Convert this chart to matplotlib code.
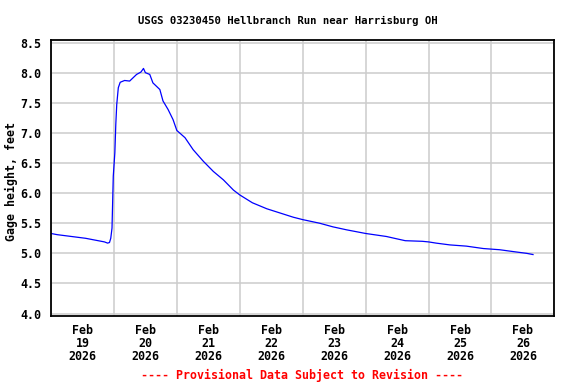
import pandas as pd
import matplotlib
matplotlib.use("Agg")
import matplotlib.pyplot as plt
import matplotlib.dates as mdates

# --- Adatok ---
START = pd.Timestamp("2026-02-19")
day_offset = [
    0.0, 0.1, 0.25, 0.4, 0.55, 0.7, 0.85, 0.9, 0.93, 0.95, 0.97, 0.99,
    1.015, 1.03, 1.045, 1.07, 1.10, 1.17, 1.25, 1.36, 1.43, 1.47, 1.50,
    1.57, 1.62, 1.73, 1.78, 1.86, 1.94, 2.0, 2.13, 2.26, 2.42, 2.58,
    2.74, 2.90, 3.0, 3.2, 3.43, 3.64, 3.85, 4.0, 4.27, 4.48, 4.7, 5.0,
    5.33, 5.5, 5.63, 5.9, 6.0, 6.12, 6.34, 6.6, 6.87, 7.13, 7.34, 7.56,
    7.66,
]
gage_height = [
    5.33, 5.31, 5.29, 5.27, 5.25, 5.22, 5.19, 5.17, 5.18, 5.25, 5.42, 6.28,
    6.67, 7.14, 7.47, 7.75, 7.84, 7.87, 7.86, 7.97, 8.01, 8.07, 8.00,
    7.97, 7.83, 7.72, 7.53, 7.39, 7.22, 7.04, 6.92, 6.72, 6.53, 6.36,
    6.22, 6.05, 5.97, 5.84, 5.74, 5.67, 5.60, 5.56, 5.50, 5.44, 5.39, 5.33,
    5.28, 5.24, 5.21, 5.20, 5.19, 5.17, 5.14, 5.12, 5.08, 5.06, 5.03, 5.00,
    4.98,
]
y_ticks = [4.0, 4.5, 5.0, 5.5, 6.0, 6.5, 7.0, 7.5, 8.0, 8.5]

TITLE = "USGS 03230450 Hellbranch Run near Harrisburg OH"
YLABEL = "Gage height, feet"
NOTE = "---- Provisional Data Subject to Revision ----"

times = START + pd.to_timedelta(day_offset, unit="D")

# --- Grafikon ---
plt.rcParams["font.family"] = ["DejaVu Sans Mono"]
plt.rcParams["font.weight"] = "bold"
FS = 8.4

fig = plt.figure(figsize=(5.76, 3.84), dpi=100)
ax = fig.add_axes([0.0885, 0.1771, 0.874, 0.72])

ax.plot(times, gage_height, color="#0000ff", linewidth=0.9)

ax.set_xlim(START, START + pd.Timedelta(days=8))
ax.set_ylim(3.96, 8.55)

# rács éjfélkor, feliratok délben
ax.xaxis.set_major_locator(mdates.DayLocator())
ax.xaxis.set_major_formatter(plt.NullFormatter())
ax.xaxis.set_minor_locator(mdates.HourLocator(byhour=[12]))
ax.xaxis.set_minor_formatter(mdates.DateFormatter("%b\n%d\n%Y"))
ax.tick_params(axis="x", which="both", length=0)
ax.tick_params(axis="x", which="minor", pad=6, labelsize=FS)
for lbl in ax.xaxis.get_minorticklabels():
    lbl.set_linespacing(1.0)

ax.set_yticks(y_ticks)
ax.set_yticklabels([f"{v:.1f}" for v in y_ticks])
ax.tick_params(axis="y", length=0, pad=7, labelsize=FS)

ax.grid(True, which="major", color="#cccccc", linewidth=1.1)
ax.set_axisbelow(True)
for s in ax.spines.values():
    s.set_color("black")
    s.set_linewidth(1.3)

fig.text(0.5, 1 - 20.5 / 384, TITLE, fontsize=7.7, fontweight="bold",
         ha="center", va="center")
fig.text(11.5 / 576, 1 - 182 / 384, YLABEL, rotation=90, fontsize=FS,
         fontweight="bold", ha="center", va="center")
fig.text(0.525, 0.023, NOTE, color="red", fontsize=FS, fontweight="bold",
         ha="center", va="center")

fig.savefig("out.png", dpi=100)
